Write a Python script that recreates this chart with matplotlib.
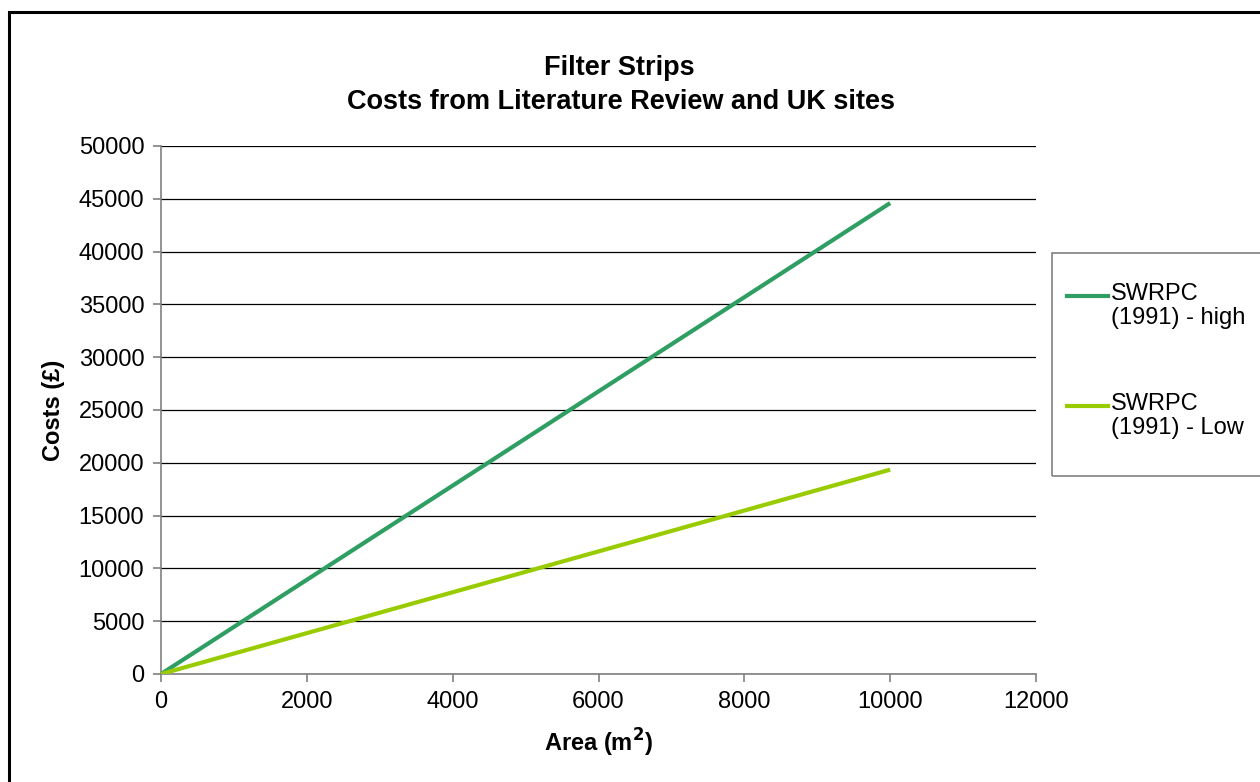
import matplotlib
matplotlib.use("Agg")
import matplotlib.pyplot as plt
from matplotlib.patches import Rectangle
from matplotlib.lines import Line2D

plt.rcParams['font.family'] = ['Liberation Sans', 'DejaVu Sans']

# Filter strip costs (SWRPC 1991), cost versus area
area = [0, 10000]
cost_high = [0, 44600]
cost_low = [0, 19350]
series_names = ['SWRPC\n(1991) - high', 'SWRPC\n(1991) - Low']
series_colors = ['#2E9E62', '#99CC00']
x_ticks = [0, 2000, 4000, 6000, 8000, 10000, 12000]
y_ticks = list(range(0, 50001, 5000))

W, H = 1260, 782
fig = plt.figure(figsize=(W / 100, H / 100), dpi=100)
ax = fig.add_axes([161 / W, 1 - 674 / H, (1036 - 161) / W, (674 - 146) / H])

ax.plot(area, cost_high, color=series_colors[0], lw=3, solid_capstyle='butt', zorder=3)
ax.plot(area, cost_low, color=series_colors[1], lw=3, solid_capstyle='butt', zorder=3)

ax.set_xlim(0, 12000)
ax.set_ylim(0, 50000)
ax.set_xticks(x_ticks)
ax.set_yticks(y_ticks)
ax.yaxis.grid(True, color='#000000', lw=0.9)
ax.set_axisbelow(True)
for s in ['top', 'right']:
    ax.spines[s].set_visible(False)
for s in ['left', 'bottom']:
    ax.spines[s].set_color('#808080')
    ax.spines[s].set_linewidth(1.2)
ax.tick_params(axis='both', direction='out', length=6, width=1.2, color='#808080',
               labelsize=17, pad=6)

ax.set_xlabel('Area (m$^\\mathbf{2}$)', fontsize=17, fontweight='bold', labelpad=10)
ax.set_ylabel('Costs (£)', fontsize=17, fontweight='bold', labelpad=10)

fig.text(619 / W, 1 - 68 / H, 'Filter Strips', ha='center', va='center',
         fontsize=19.5, fontweight='bold')
fig.text(621 / W, 1 - 102 / H, 'Costs from Literature Review and UK sites',
         ha='center', va='center', fontsize=19.5, fontweight='bold')

# outer chart border and legend box
fig.patches.append(Rectangle((9 / W, -0.1), 1.2, 1 - 12 / H + 0.1, transform=fig.transFigure,
                             fill=False, ec='black', lw=2.2))
fig.patches.append(Rectangle((1052 / W, 1 - 476 / H), 0.3, (476 - 253) / H,
                             transform=fig.transFigure, fill=False, ec='#808080', lw=1.2))
for i, (name, col) in enumerate(zip(series_names, series_colors)):
    y = 296 + i * 110
    fig.lines.append(Line2D([1067 / W, 1108 / W], [1 - y / H] * 2, transform=fig.transFigure,
                            color=col, lw=3))
    fig.text(1111 / W, 1 - (y - 13) / H, name, ha='left', va='top', fontsize=17,
             linespacing=1.1)

fig.savefig('out.png', dpi=100)
